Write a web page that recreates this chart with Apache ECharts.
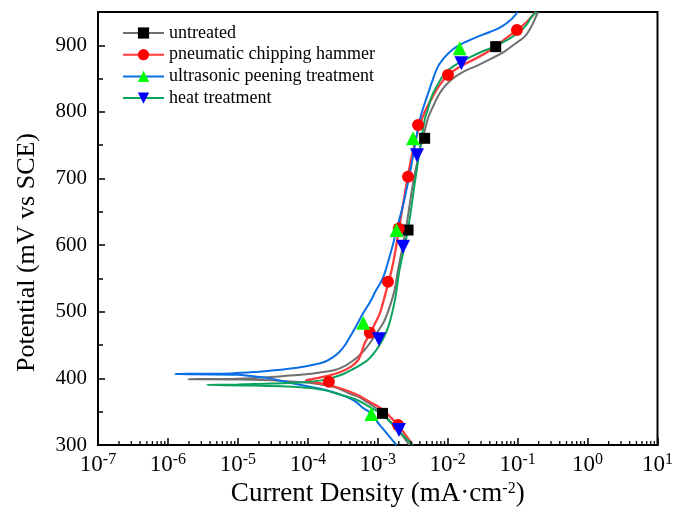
<!DOCTYPE html>
<html><head><meta charset="utf-8">
<script src="https://cdn.jsdelivr.net/npm/echarts@6/dist/echarts.min.js"></script>
<style>html,body{margin:0;padding:0;background:#fff}#c{width:676px;height:516px}</style>
</head><body><div id="c"></div>
<script>
// ---- names ----
const seriesNames = ['untreated', 'pneumatic chipping hammer', 'ultrasonic peening treatment', 'heat treatment'];

// ---- curves: potential (mV vs SCE) and current density (mA/cm2) ----
const untreatedE = [300, 312, 325, 336, 347.5, 356, 365, 372, 377, 383, 387.5, 390.5, 393, 396.5, 398.3, 398.8, 399.5, 403, 405, 407, 409.5, 412.6, 418, 425, 433, 442.6, 452, 462.6, 475, 487.6, 510, 532.6, 562.7, 622.7, 707.8, 787.8, 810, 823, 836, 848, 860, 870, 880, 890.5, 902, 913, 925, 938, 950];
const untreatedI = [2.82e-3, 2.34e-3, 1.82e-3, 1.48e-3, 1.17e-3, 9.3e-4, 6.9e-4, 5.4e-4, 4.0e-4, 3.0e-4, 2.3e-4, 1.58e-4, 1.12e-4, 4.0e-5, 1.0e-5, 1.95e-6, 1.0e-5, 4.0e-5, 7.0e-5, 1.12e-4, 1.66e-4, 2.45e-4, 3.3e-4, 4.2e-4, 5.25e-4, 6.46e-4, 7.6e-4, 8.9e-4, 1.07e-3, 1.26e-3, 1.51e-3, 1.74e-3, 1.95e-3, 2.51e-3, 3.39e-3, 5.13e-3, 6.3e-3, 7.24e-3, 8.7e-3, 1.12e-2, 1.66e-2, 2.69e-2, 4.2e-2, 6.46e-2, 9.1e-2, 0.126, 0.151, 0.174, 0.195];

const pneumaticE = [300, 315, 327.5, 340, 352.5, 360, 367.5, 374, 380, 385, 390, 394, 397, 399, 403, 410, 418, 427.6, 440, 452.6, 467.6, 482, 497.7, 515, 532.6, 562.7, 590, 622.7, 660, 702.8, 740, 780, 800, 820, 838, 855, 868, 880, 890, 900, 912, 923, 935, 950];
const pneumaticI = [3.16e-3, 2.5e-3, 2.04e-3, 1.58e-3, 1.2e-3, 9.3e-4, 6.9e-4, 5.4e-4, 4.0e-4, 2.9e-4, 2.0e-4, 1.26e-4, 9.5e-5, 1.15e-4, 1.78e-4, 3.0e-4, 4.2e-4, 5.25e-4, 5.9e-4, 6.5e-4, 7.8e-4, 9.1e-4, 1.07e-3, 1.2e-3, 1.33e-3, 1.58e-3, 1.78e-3, 2.0e-3, 2.29e-3, 2.69e-3, 3.16e-3, 3.98e-3, 4.7e-3, 5.9e-3, 7.4e-3, 1.0e-2, 1.5e-2, 2.5e-2, 3.7e-2, 5.0e-2, 7.1e-2, 9.77e-2, 0.135, 0.18];

const ultrasonicE = [300, 311, 322.5, 335, 345, 356, 367.5, 377.6, 383, 387.5, 392, 396, 400, 403.5, 405.5, 406.6, 407.5, 410, 413, 416, 420, 425, 432, 440, 450, 462, 480, 497.7, 515, 532.6, 547.7, 562.7, 600, 622.7, 660, 707.8, 750, 787.8, 810, 828, 850, 868, 880, 890, 898, 905, 913, 920, 928, 940, 950];
const ultrasonicI = [1.85e-3, 1.51e-3, 1.23e-3, 9.8e-4, 8.7e-4, 6.1e-4, 4.47e-4, 2.57e-4, 1.74e-4, 1.07e-4, 6.5e-5, 4.3e-5, 2.9e-5, 1.5e-5, 1.0e-5, 1.26e-6, 8.0e-6, 2.0e-5, 4.0e-5, 7.0e-5, 1.15e-4, 1.75e-4, 2.3e-4, 2.85e-4, 3.4e-4, 4.0e-4, 5.0e-4, 6.17e-4, 7.8e-4, 9.5e-4, 1.15e-3, 1.3e-3, 1.64e-3, 1.85e-3, 2.3e-3, 2.88e-3, 3.4e-3, 3.98e-3, 4.6e-3, 5.25e-3, 6.2e-3, 7.24e-3, 8.7e-3, 1.07e-2, 1.35e-2, 1.8e-2, 2.69e-2, 4.0e-2, 5.9e-2, 8.3e-2, 0.1];

const heatE = [300, 310, 320, 330, 340, 350, 360, 369, 377.6, 382, 385.5, 388, 389.3, 390.3, 391, 392.5, 394, 397, 402.5, 407, 412.6, 420, 427.6, 437, 447, 460, 477, 500, 520, 540, 562, 622.7, 707.8, 788, 805, 823, 840, 858, 870, 880.5, 890, 898, 908, 918, 930, 942.8, 950];
const heatI = [3.16e-3, 2.54e-3, 2.04e-3, 1.66e-3, 1.33e-3, 1.0e-3, 6.9e-4, 4.7e-4, 2.5e-4, 1.78e-4, 1.12e-4, 5.0e-5, 1.6e-5, 3.6e-6, 1.0e-5, 3.2e-5, 7.9e-5, 1.58e-4, 2.5e-4, 3.3e-4, 4.2e-4, 5.6e-4, 7.2e-4, 8.7e-4, 1.02e-3, 1.2e-3, 1.41e-3, 1.62e-3, 1.78e-3, 1.9e-3, 2.04e-3, 2.69e-3, 3.55e-3, 4.68e-3, 5.25e-3, 5.89e-3, 7.1e-3, 9.12e-3, 1.26e-2, 1.95e-2, 3.0e-2, 4.68e-2, 7.1e-2, 0.1, 0.132, 0.158, 0.186];

// ---- marker positions ----
const untreatedMarkE = [347.5, 622.7, 760.4, 898];
const untreatedMarkI = [1.17e-3, 2.71e-3, 4.68e-3, 4.86e-2];
const pneumaticMarkE = [330, 395, 468.6, 545, 625, 702.8, 780.4, 855.4, 923];
const pneumaticMarkI = [1.95e-3, 2.0e-4, 7.7e-4, 1.4e-3, 2.0e-3, 2.71e-3, 3.77e-3, 1.01e-2, 9.77e-2];
const ultrasonicMarkE = [346.5, 483.6, 622.7, 760.4, 895.5];
const ultrasonicMarkI = [8.1e-4, 6.2e-4, 1.85e-3, 3.19e-3, 1.48e-2];
const heatMarkE = [322.5, 458.6, 597.7, 735, 873];
const heatMarkI = [2.01e-3, 1.04e-3, 2.3e-3, 3.64e-3, 1.57e-2];

// ---- axis ----
const xMin = 1e-7, xMax = 10;
const yMin = 300, yMax = 950, yInterval = 100;
const decadeExps = [-7, -6, -5, -4, -3, -2, -1, 0];

const FONT = 'Liberation Serif';
const lineColors = ['#707070', '#ff3b3b', '#0a6ee6', '#0aa35e'];
const markColors = ['#000000', '#ff0000', '#00ff00', '#0000ff'];
const markSymbols = ['rect', 'circle', 'triangle', 'triangle'];
const markSizes = [11, 12, 14, 14];
const markRotate = [0, 0, 0, 180];

function zip(I, E) { return I.map((v, k) => [v, E[k]]); }
const curves = [zip(untreatedI, untreatedE), zip(pneumaticI, pneumaticE), zip(ultrasonicI, ultrasonicE), zip(heatI, heatE)];
const marks = [zip(untreatedMarkI, untreatedMarkE), zip(pneumaticMarkI, pneumaticMarkE), zip(ultrasonicMarkI, ultrasonicMarkE), zip(heatMarkI, heatMarkE)];

const minorTicks = [];
decadeExps.forEach(e => { for (let k = 2; k <= 9; k++) minorTicks.push([k * Math.pow(10, e), yMin]); });

const series = [];
curves.forEach((d, k) => {
  series.push({
    name: seriesNames[k], type: 'line', data: d, smooth: 0.4,
    showSymbol: false, symbol: markSymbols[k], symbolSize: markSizes[k], symbolRotate: markRotate[k],
    itemStyle: { color: markColors[k] },
    lineStyle: { color: lineColors[k], width: k === 1 ? 2.3 : 2 },
    emphasis: { disabled: true }, z: 2, animation: false
  });
});
marks.forEach((d, k) => {
  series.push({
    name: seriesNames[k] + ' marks', type: 'scatter', data: d,
    symbol: markSymbols[k], symbolSize: markSizes[k], symbolRotate: markRotate[k],
    itemStyle: { color: markColors[k], opacity: 1 }, z: 3, animation: false
  });
});
series.push({
  name: 'minor', type: 'custom', data: minorTicks, silent: true, z: 5, animation: false,
  renderItem: function (params, api) {
    const p = api.coord([api.value(0), api.value(1)]);
    return { type: 'line', shape: { x1: p[0], y1: p[1], x2: p[0], y2: p[1] - 4 }, style: { stroke: '#000', lineWidth: 1.3 } };
  }
});

const chart = echarts.init(document.getElementById('c'), null, { renderer: 'canvas' });
chart.setOption({
  animation: false,
  backgroundColor: '#fff',
  grid: { left: 98, right: 16, top: 12, bottom: 71, show: true, borderColor: '#000', borderWidth: 2, backgroundColor: 'transparent' },
  legend: {
    data: seriesNames, orient: 'vertical', left: 122, top: 24, padding: 0,
    itemWidth: 41, itemHeight: 14, itemGap: 3.7,
    textStyle: { fontFamily: FONT, fontSize: 18, color: '#000', padding: [0, 0, 0, 0] },
    selectedMode: false
  },
  xAxis: {
    type: 'log', logBase: 10, min: xMin, max: xMax, splitNumber: 8,
    name: '{b|Current Density (mA·cm}{sup|-2}{b|)}', nameLocation: 'middle', nameGap: 33,
    nameTextStyle: { fontFamily: FONT, fontSize: 27, color: '#000', rich: {
      b: { fontFamily: FONT, fontSize: 27, color: '#000' },
      sup: { fontFamily: FONT, fontSize: 16, verticalAlign: 'top', padding: [0, 0, 10, 0], color: '#000' } } },
    axisLine: { show: true, lineStyle: { color: '#000', width: 2 } },
    axisTick: { show: true, inside: true, length: 7, lineStyle: { color: '#000', width: 1.5 } },
    minorTick: { show: false },
    splitLine: { show: false },
    axisLabel: {
      margin: 7, color: '#000', fontFamily: FONT, fontSize: 23,
      formatter: function (v) { const e = Math.round(Math.log10(v)); return '{b|10}{sup|' + e + '}'; },
      rich: {
        b: { fontFamily: FONT, fontSize: 23, color: '#000' },
        sup: { fontFamily: FONT, fontSize: 16, color: '#000', verticalAlign: 'top', padding: [0, 0, 9, 0] } }
    }
  },
  yAxis: {
    type: 'value', min: yMin, max: yMax, interval: yInterval,
    name: 'Potential (mV vs SCE)', nameLocation: 'middle', nameGap: 58,
    nameTextStyle: { fontFamily: FONT, fontSize: 26, color: '#000', padding: [0, 48, 0, 0] },
    axisLine: { show: true, lineStyle: { color: '#000', width: 2 } },
    axisTick: { show: true, inside: true, length: 7, lineStyle: { color: '#000', width: 1.5 } },
    minorTick: { show: true, splitNumber: 2, length: 5, lineStyle: { color: '#000', width: 1.5 } },
    splitLine: { show: false },
    axisLabel: { margin: 11, color: '#000', fontFamily: FONT, fontSize: 21, showMaxLabel: false }
  },
  series: series
});
</script></body></html>
